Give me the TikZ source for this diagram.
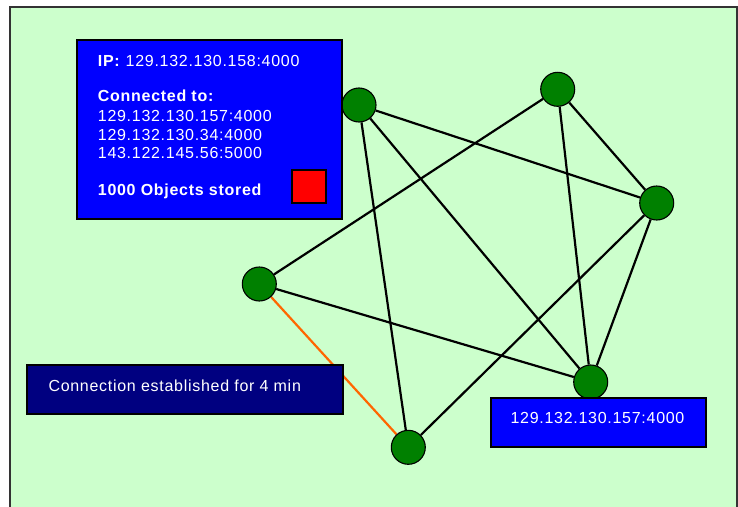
\documentclass[tikz,border=0pt]{standalone}
\usepackage{fontspec}
\setmainfont{Liberation Sans}[LetterSpace=4.5]
\usepackage{xcolor}
\usetikzlibrary{positioning, backgrounds}

\definecolor{meshbg}{RGB}{204,255,204}
\definecolor{peergreen}{RGB}{0,128,0}
\definecolor{panelblue}{RGB}{0,0,255}
\definecolor{panelnavy}{RGB}{0,0,128}
\definecolor{linkorange}{RGB}{255,102,0}

\tikzset{
  peer/.style={circle, draw=black, line width=1.1pt, fill=peergreen, minimum size=34pt, inner sep=0pt},
  link/.style={line width=2.2pt, draw=black},
  panel/.style={draw=black, line width=1.8pt, inner sep=0pt},
  paneltext/.style={text=white, inner sep=0pt, font=\fontsize{16}{18.5}\selectfont}
}

\begin{document}
\begin{tikzpicture}[x=1pt, y=-1pt]
      \useasboundingbox (0,0) rectangle (738,506);

      % Peers
      \node[peer] (pa) at (359,105) {};
      \node[peer] (pb) at (557.7,89.3) {};
      \node[peer] (pc) at (656.7,203) {};
      \node[peer] (pd) at (259.3,284) {};
      \node[peer] (pe) at (590.7,382) {};
      \node[peer] (pf) at (408.3,447.3) {};

      % Peer info
      \node[panel, fill=panelblue, minimum width=265.6pt, minimum height=179pt] (info) at (209.5,129.5) {};
      \node[paneltext, anchor=base west] (ipline) at (97.7,66) {\textbf{IP:} 129.132.130.158:4000};
      \node[paneltext, anchor=base west] (conhead) at (97.7,101.7) {\textbf{Connected to:}};
      \node[paneltext, anchor=base west] (conone) at (97.7,121) {129.132.130.157:4000};
      \node[paneltext, anchor=base west] (contwo) at (97.7,140) {129.132.130.34:4000};
      \node[paneltext, anchor=base west] (conthree) at (97.7,158) {143.122.145.56:5000};
      \node[paneltext, anchor=base west] (objline) at (97.7,195) {\textbf{1000 Objects stored}};
      \node[panel, fill=red, minimum size=33.5pt] (store) at (309,186.5) {};

      % Connection status
      \node[panel, fill=panelnavy, minimum width=316pt, minimum height=49pt] (status) at (184.7,389.5) {};
      \node[paneltext, anchor=base west] (statustext) at (48.3,391) {Connection established for 4 min};

      % Address of selected peer
      \node[panel, fill=panelblue, minimum width=215.3pt, minimum height=49.3pt] (addr) at (598.3,422.3) {};
      \node[paneltext, anchor=base] (addrtext) at (597.5,423) {129.132.130.157:4000};

      \begin{scope}[on background layer]
        \filldraw[fill=meshbg, draw=black!80, line width=1.5pt] (10,7) rectangle (737,520);
        % Links
        \draw[link] (pa) -- (pc);
        \draw[link] (pa) -- (pe);
        \draw[link] (pa) -- (pf);
        \draw[link] (pb) -- (pc);
        \draw[link] (pb) -- (pd);
        \draw[link] (pb) -- (pe);
        \draw[link] (pc) -- (pe);
        \draw[link] (pc) -- (pf);
        \draw[link] (pd) -- (pe);
        \draw[link, draw=linkorange] (pd) -- (pf);
      \end{scope}
    \end{tikzpicture}
\end{document}
